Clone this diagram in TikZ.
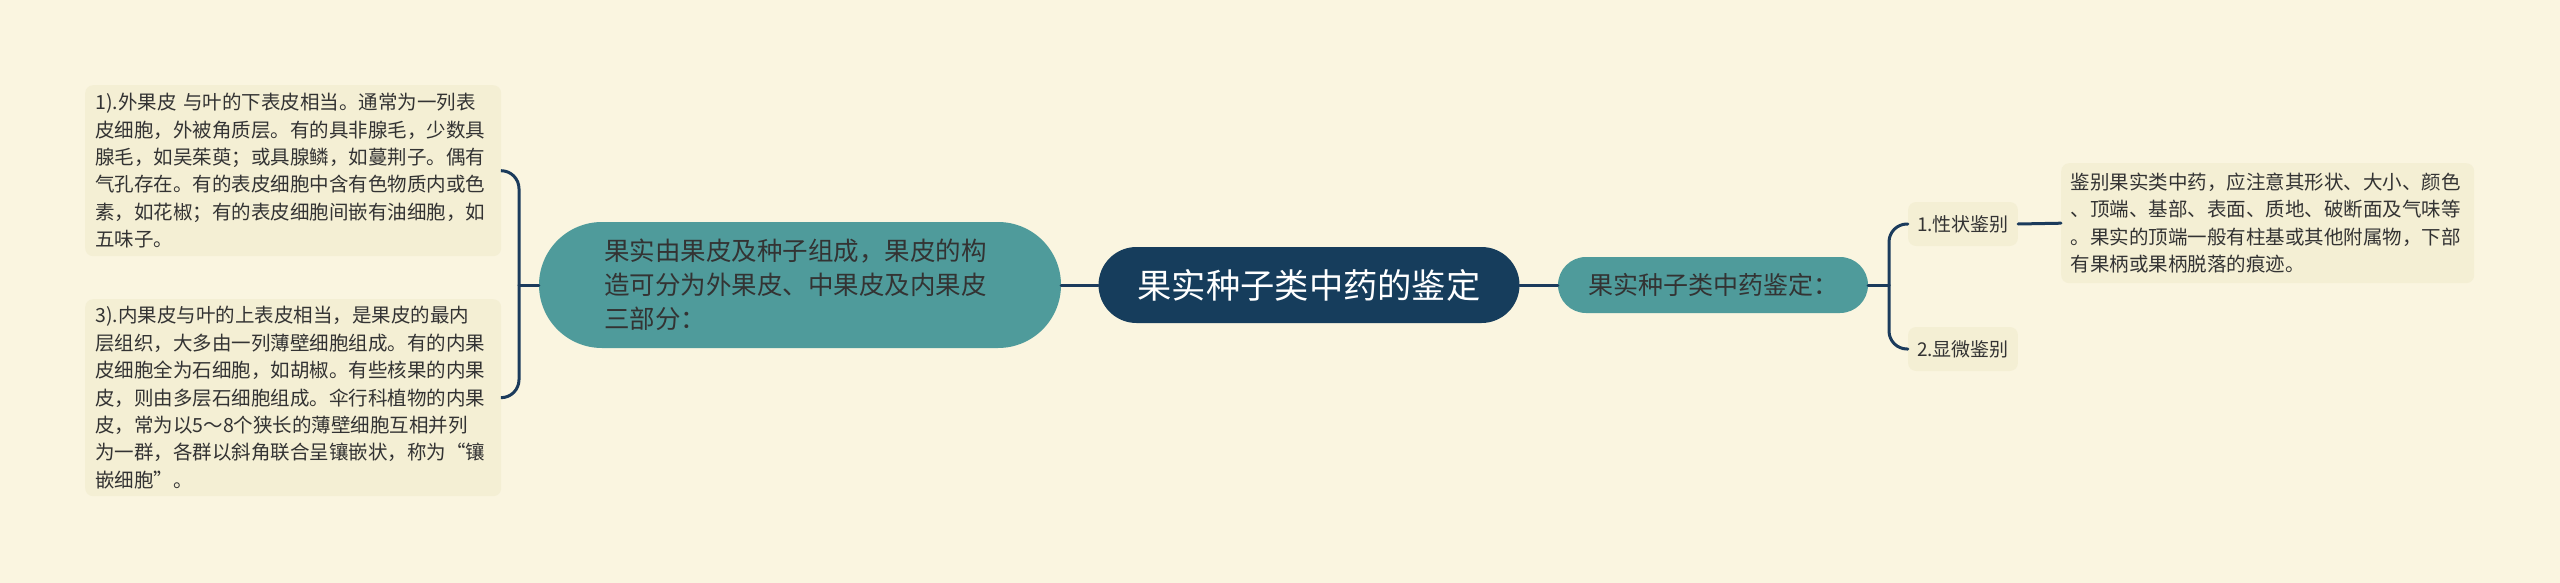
\documentclass[tikz,border=0pt]{standalone}
\usepackage{fontspec}
\setmainfont{Noto Sans CJK SC}
\definecolor{bgcream}{HTML}{FAF5E0}
\definecolor{boxcream}{HTML}{F4EFD4}
\definecolor{mmteal}{HTML}{4F9B9B}
\definecolor{mmnavy}{HTML}{163D5C}
\definecolor{mmline}{HTML}{1B3B5C}
\definecolor{mmtext}{HTML}{333333}
\begin{document}
\begin{tikzpicture}[x=1pt,y=-1pt,
  leaf/.style={fill=boxcream, rounded corners=8pt, text=mmtext, align=left, inner xsep=10pt, font=\fontsize{19.5}{27.4}\selectfont},
  pill/.style={fill=mmteal, text=mmtext, align=left},
  link/.style={draw=mmline, line width=3pt, line cap=round}]
\useasboundingbox (0,0) rectangle (2560,583);
\fill[bgcream] (0,0) rectangle (2560,583);
% the root
\node[fill=mmnavy, text=white, font=\fontsize{34.3}{42}\selectfont, inner xsep=39pt, minimum height=76pt, rounded corners=38pt] (root) at (1309,285) {果实种子类中药的鉴定};
% left side
\node[pill, font=\fontsize{25.5}{34}\selectfont, text width=392pt, inner xsep=65pt, minimum height=126pt, rounded corners=63pt] (struct) at (800,285) {果实由果皮及种子组成，果皮的构\\造可分为外果皮、中果皮及内果皮\\三部分：};
\node[leaf, anchor=north west, text width=396pt, minimum height=171pt] (outer) at (85,85) {1).外果皮 与叶的下表皮相当。通常为一列表\\皮细胞，外被角质层。有的具非腺毛，少数具\\腺毛，如吴茱萸；或具腺鳞，如蔓荆子。偶有\\气孔存在。有的表皮细胞中含有色物质内或色\\素，如花椒；有的表皮细胞间嵌有油细胞，如\\五味子。};
\node[leaf, anchor=north west, text width=396pt, minimum height=197pt] (inner) at (85,299) {3).内果皮与叶的上表皮相当，是果皮的最内\\层组织，大多由一列薄壁细胞组成。有的内果\\皮细胞全为石细胞，如胡椒。有些核果的内果\\皮，则由多层石细胞组成。伞行科植物的内果\\皮，常为以5～8个狭长的薄壁细胞互相并列\\为一群，各群以斜角联合呈镶嵌状，称为“镶\\嵌细胞”。};
% right side
\node[pill, font=\fontsize{25}{32}\selectfont, inner xsep=30pt, minimum height=56pt, rounded corners=28pt] (ident) at (1713,285) {果实种子类中药鉴定：};
\node[leaf, font=\fontsize{19}{26}\selectfont, inner xsep=9pt, minimum height=44pt] (macro) at (1963,224) {1.性状鉴别};
\node[leaf, font=\fontsize{19}{26}\selectfont, inner xsep=9pt, minimum height=44pt] (micro) at (1963,349) {2.显微鉴别};
\node[leaf, anchor=north west, text width=394pt, inner xsep=9.5pt, minimum height=120pt] (macrotext) at (2061,163) {鉴别果实类中药，应注意其形状、大小、颜色\\、顶端、基部、表面、质地、破断面及气味等\\。果实的顶端一般有柱基或其他附属物，下部\\有果柄或果柄脱落的痕迹。};
% connectors
\coordinate (lfork) at (519,285);
\coordinate (rfork) at (1889,285);
\draw[link] (root.west) -- (struct.east);
\draw[link] (root.east) -- (ident.west);
\draw[link] (struct.west) -- (lfork);
\draw[link, rounded corners=18pt] (lfork) |- (outer.east);
\draw[link, rounded corners=18pt] (lfork) |- (inner.east);
\draw[link] (ident.east) -- (rfork);
\draw[link, rounded corners=18pt] (rfork) |- (macro.west);
\draw[link, rounded corners=18pt] (rfork) |- (micro.west);
\draw[link] (macro.east) -- (macrotext.west);
\end{tikzpicture}
\end{document}
